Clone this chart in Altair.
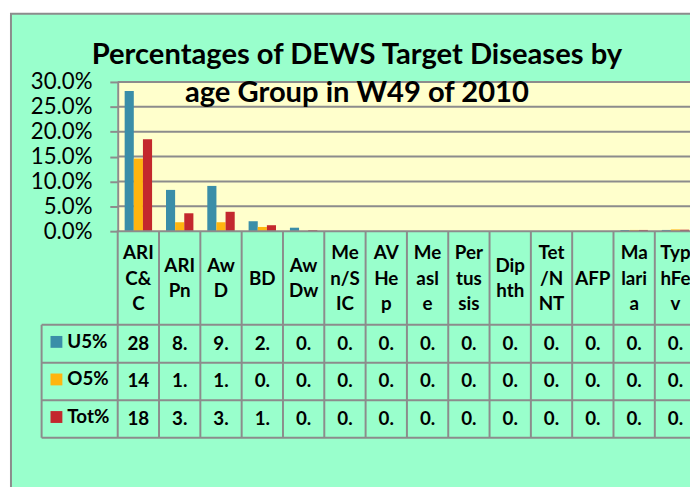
import altair as alt
import pandas as pd

# ---- data ----
categories = ["ARI C&C", "ARI Pn", "AwD", "BD", "AwDw", "Men/SIC", "AVHep", "Measle",
              "Pertussis", "Diphth", "Tet/NNT", "AFP", "Malaria", "TyphFev"]
header_labels = ["ARI\nC&\nC", "ARI\nPn", "Aw\nD", "BD", "Aw\nDw", "Me\nn/S\nIC", "AV\nHe\np",
                 "Me\nasl\ne", "Per\ntus\nsis", "Dip\nhth", "Tet\n/N\nNT", "AFP", "Ma\nlari\na", "Typ\nhFe\nv"]
series = ["U5%", "O5%", "Tot%"]
u5 = [28.2, 8.3, 9.1, 2.0, 0.7, 0.05, 0.05, 0.02, 0.02, 0.01, 0.02, 0.02, 0.25, 0.25]
o5 = [14.6, 1.8, 1.8, 0.85, 0.05, 0.03, 0.03, 0.02, 0.01, 0.01, 0.01, 0.01, 0.25, 0.35]
tot = [18.5, 3.6, 3.9, 1.2, 0.2, 0.04, 0.04, 0.02, 0.01, 0.01, 0.01, 0.01, 0.25, 0.3]
colors = ["#3A8EA8", "#FFB50F", "#C3282D"]
y_ticks = [0, 5, 10, 15, 20, 25, 30]
title_lines = ["Percentages of DEWS Target Diseases by", "age Group in W49 of 2010"]

GRAY = "#8C8C8C"
MINT = "#99FFCC"
PLOTBG = "#FFFFCC"
FONT = "Lato"

rows = []
for s, vals in zip(series, [u5, o5, tot]):
    for c, v in zip(categories, vals):
        rows.append({"cat": c, "series": s, "val": v / 100.0, "label": f"{v:.2f}"[:2]})
df = pd.DataFrame(rows)
df_cat = pd.DataFrame({"cat": categories, "header": header_labels,
                       "nlines": [h.count("\n") + 1 for h in header_labels]})
df_grid = pd.DataFrame({"t": [t / 100.0 for t in y_ticks[1:]]})
one = pd.DataFrame({"a": [0]})

xscale = alt.Scale(domain=categories, range=[0, 585.2], paddingInner=0, paddingOuter=0)
yscale = alt.Scale(domain=[0, 0.3], nice=False, zero=True)
cscale = alt.Scale(domain=series, range=colors)
yaxis = alt.Axis(values=[t / 100.0 for t in y_ticks], format=".1%", grid=False,
                 domainColor=GRAY, domainWidth=2, tickColor=GRAY, tickWidth=2, tickSize=8,
                 labelFont=FONT, labelFontSize=22.5, labelColor="black", labelPadding=18,
                 title=None, zindex=1)

X = lambda **kw: alt.X("cat:N", scale=xscale, axis=None, **kw)

frame = alt.Chart(one).mark_rect(fill=MINT, stroke=GRAY, strokeWidth=2).encode(
    x=alt.value(-108), x2=alt.value(700), y=alt.value(-69), y2=alt.value(420))
plotbg = alt.Chart(one).mark_rect(fill=PLOTBG).encode(
    x=alt.value(0), x2=alt.value(600), y=alt.value(0), y2=alt.value(151))
grid = alt.Chart(df_grid).mark_rule(color=GRAY, strokeWidth=2).encode(
    y=alt.Y("t:Q", scale=yscale, axis=yaxis), x=alt.value(0), x2=alt.value(600))
bars = alt.Chart(df).mark_bar().encode(
    x=X(),
    xOffset=alt.XOffset("series:N", sort=series, scale=alt.Scale(paddingInner=0, paddingOuter=0.76)),
    y=alt.Y("val:Q", scale=yscale, axis=yaxis),
    color=alt.Color("series:N", scale=cscale, legend=None))

layers = [frame, plotbg, grid, bars]

# table lines
for yv, x0 in [(151, -1), (245.7, -77), (284, -77), (322, -77), (360, -77)]:
    layers.append(alt.Chart(one).mark_rule(color=GRAY, strokeWidth=2).encode(
        y=alt.value(yv), x=alt.value(x0), x2=alt.value(600)))
layers.append(alt.Chart(one).mark_rule(color=GRAY, strokeWidth=2).encode(
    x=alt.value(-77), y=alt.value(245.7), y2=alt.value(360)))
layers.append(alt.Chart(df_cat).mark_rule(color=GRAY, strokeWidth=2).encode(
    x=X(bandPosition=0), y=alt.value(151), y2=alt.value(360)))

# header labels (multi-line, vertically centred in the header row)
LH = 26
for n in [1, 2, 3]:
    layers.append(alt.Chart(df_cat[df_cat["nlines"] == n]).mark_text(
        font=FONT, fontSize=19, fontWeight="bold", color="black",
        baseline="middle", lineBreak="\n", lineHeight=LH).encode(
        x=X(), y=alt.value(199 - (n - 1) * LH / 2), text="header:N"))

row_centers = [265, 303, 341]
for s, yc in zip(series, row_centers):
    layers.append(alt.Chart(df[df["series"] == s]).mark_text(
        font=FONT, fontSize=19, fontWeight="bold", color="black", baseline="middle").encode(
        x=X(), y=alt.value(yc), text="label:N"))
    leg = pd.DataFrame({"series": [s]})
    layers.append(alt.Chart(leg).mark_square(size=144, opacity=1).encode(
        x=alt.value(-62), y=alt.value(yc - 2),
        color=alt.Color("series:N", scale=cscale, legend=None)))
    layers.append(alt.Chart(leg).mark_text(
        font=FONT, fontSize=19, fontWeight="bold", color="black", baseline="middle", align="left").encode(
        x=alt.value(-51), y=alt.value(yc - 2), text="series:N"))

# title
for line, yb in zip(title_lines, [-18, 20]):
    layers.append(alt.Chart(one).mark_text(font=FONT, fontSize=29.5, fontWeight="bold", color="black",
                                           align="center", baseline="alphabetic").encode(
        x=alt.value(242), y=alt.value(yb), text=alt.value(line)))

chart = alt.layer(*layers).properties(
    width=579, height=151,
    autosize=alt.AutoSizeParams(type="none"),
    padding={"left": 111, "top": 72, "right": 0, "bottom": 256},
    background="white",
).configure_view(stroke=None)

chart.save("out.html", embed_options={"renderer": "svg", "actions": False})
